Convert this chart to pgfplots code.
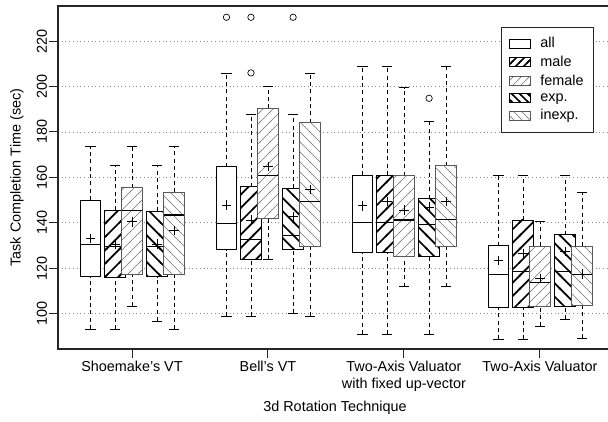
\documentclass[border=0pt]{standalone}
\usepackage{fontspec}
\setmainfont{Liberation Sans}
\usepackage{pgfplots}
\pgfplotsset{compat=1.18}
\usetikzlibrary{patterns}
\pgfdeclarepatternformonly{thickNE}{\pgfqpoint{-1pt}{-1pt}}{\pgfqpoint{11pt}{11pt}}{\pgfqpoint{10pt}{10pt}}{%
  \pgfsetlinewidth{1.3pt}\pgfsetrectcap
  \pgfpathmoveto{\pgfqpoint{-0.5pt}{-0.5pt}}\pgfpathlineto{\pgfqpoint{10.5pt}{10.5pt}}\pgfusepath{stroke}}
\pgfdeclarepatternformonly{thickNW}{\pgfqpoint{-1pt}{-1pt}}{\pgfqpoint{11pt}{11pt}}{\pgfqpoint{10pt}{10pt}}{%
  \pgfsetlinewidth{1.3pt}\pgfsetrectcap
  \pgfpathmoveto{\pgfqpoint{-0.5pt}{10.5pt}}\pgfpathlineto{\pgfqpoint{10.5pt}{-0.5pt}}\pgfusepath{stroke}}
\pgfdeclarepatternformonly{thinNE}{\pgfqpoint{-1pt}{-1pt}}{\pgfqpoint{8.5pt}{8.5pt}}{\pgfqpoint{7.5pt}{7.5pt}}{%
  \pgfsetlinewidth{0.45pt}
  \pgfpathmoveto{\pgfqpoint{-0.5pt}{-0.5pt}}\pgfpathlineto{\pgfqpoint{8pt}{8pt}}\pgfusepath{stroke}}
\pgfdeclarepatternformonly{thinNW}{\pgfqpoint{-1pt}{-1pt}}{\pgfqpoint{8.5pt}{8.5pt}}{\pgfqpoint{7.5pt}{7.5pt}}{%
  \pgfsetlinewidth{0.45pt}
  \pgfpathmoveto{\pgfqpoint{-0.5pt}{8pt}}\pgfpathlineto{\pgfqpoint{8pt}{-0.5pt}}\pgfusepath{stroke}}
\pgfdeclarepatternformonly{lgthickNE}{\pgfqpoint{-1pt}{-1pt}}{\pgfqpoint{7pt}{7pt}}{\pgfqpoint{6pt}{6pt}}{%
  \pgfsetlinewidth{1.2pt}\pgfsetrectcap
  \pgfpathmoveto{\pgfqpoint{-0.5pt}{-0.5pt}}\pgfpathlineto{\pgfqpoint{6.5pt}{6.5pt}}\pgfusepath{stroke}}
\pgfdeclarepatternformonly{lgthickNW}{\pgfqpoint{-1pt}{-1pt}}{\pgfqpoint{7pt}{7pt}}{\pgfqpoint{6pt}{6pt}}{%
  \pgfsetlinewidth{1.2pt}\pgfsetrectcap
  \pgfpathmoveto{\pgfqpoint{-0.5pt}{6.5pt}}\pgfpathlineto{\pgfqpoint{6.5pt}{-0.5pt}}\pgfusepath{stroke}}
\pgfdeclarepatternformonly{lgthinNE}{\pgfqpoint{-1pt}{-1pt}}{\pgfqpoint{7pt}{7pt}}{\pgfqpoint{6pt}{6pt}}{%
  \pgfsetlinewidth{0.45pt}
  \pgfpathmoveto{\pgfqpoint{-0.5pt}{-0.5pt}}\pgfpathlineto{\pgfqpoint{6.5pt}{6.5pt}}\pgfusepath{stroke}}
\pgfdeclarepatternformonly{lgthinNW}{\pgfqpoint{-1pt}{-1pt}}{\pgfqpoint{7pt}{7pt}}{\pgfqpoint{6pt}{6pt}}{%
  \pgfsetlinewidth{0.45pt}
  \pgfpathmoveto{\pgfqpoint{-0.5pt}{6.5pt}}\pgfpathlineto{\pgfqpoint{6.5pt}{-0.5pt}}\pgfusepath{stroke}}
\pgfplotsset{
  boxall/.style={fill=white, draw=black, line width=0.7pt},
  boxmale/.style={fill=white, draw=black, line width=0.7pt, postaction={pattern=thickNE, pattern color=black}},
  boxfemale/.style={fill=white, draw=black!65, line width=0.7pt, postaction={pattern=thinNE, pattern color=black!55}},
  boxexp/.style={fill=white, draw=black, line width=0.7pt, postaction={pattern=thickNW, pattern color=black}},
  boxinexp/.style={fill=white, draw=black!65, line width=0.7pt, postaction={pattern=thinNW, pattern color=black!55}},
  whisk/.style={black, line width=0.6pt, dash pattern=on 3pt off 2.5pt},
  cap/.style={black, line width=0.6pt, solid},
  avg/.style={only marks, mark=+, mark size=3.6pt, black, mark options={solid, line width=0.6pt}},
  medl/.style={black, line width=0.8pt, solid},
}
% \bx{pos}{lower whisker}{lower quartile}{median}{upper quartile}{upper whisker}{mean}{box style}
\newcommand{\bx}[8]{%
  \pgfmathsetmacro\xa{#1-0.075}\pgfmathsetmacro\xb{#1+0.075}%
  \pgfmathsetmacro\ca{#1-0.0375}\pgfmathsetmacro\cb{#1+0.0375}%
  \edef\tmp{%
    \noexpand\addplot[whisk, forget plot] coordinates {(#1,#2) (#1,#3)};
    \noexpand\addplot[whisk, forget plot] coordinates {(#1,#5) (#1,#6)};
    \noexpand\addplot[cap, forget plot] coordinates {(\ca,#2) (\cb,#2)};
    \noexpand\addplot[cap, forget plot] coordinates {(\ca,#6) (\cb,#6)};
    \noexpand\addplot[#8, forget plot] coordinates {(\xa,#3) (\xb,#3) (\xb,#5) (\xa,#5)} -- cycle;
    \noexpand\addplot[medl, forget plot] coordinates {(\xa,#4) (\xb,#4)};
    \noexpand\addplot[avg, forget plot] coordinates {(#1,#7)};
  }\tmp
}
\begin{document}
\fontsize{10.8}{13}\selectfont
\begin{tikzpicture}
\useasboundingbox (0,0) rectangle (456pt,316.5pt);
\begin{axis}[
  at={(43.5pt,54.75pt)}, anchor=south west,
  scale only axis, width=415.5pt, height=257.25pt,
  xmin=0.456, xmax=4.53, ymin=84.36, ymax=235.46,
  axis line style={black!85, line width=0.8pt},
  xtick={1,2,3,4},
  xticklabels={Shoemake's VT, Bell's VT, {Two-Axis Valuator\\with fixed up-vector}, Two-Axis Valuator},
  xticklabel style={align=center, inner sep=2pt},
  ytick={100,120,...,220},
  yticklabel style={rotate=90, anchor=south, inner sep=1.5pt},
  /pgf/number format/assume math mode=true,
  tick align=outside, xtick pos=left, ytick pos=left,
  major tick length=6.5pt,
  tick style={black!85, line width=0.7pt},
  ymajorgrids, major grid style={black!45, line width=0.5pt, dash pattern=on 0.6pt off 2.2pt},
  xlabel={3d Rotation Technique},
  xlabel style={at={(axis description cs:0.5,-0.172)}, anchor=center, inner sep=0pt},
  ylabel={Task Completion Time (sec)},
  ylabel style={at={(axis description cs:-0.074,0.5)}, anchor=center, inner sep=0pt},
  legend style={at={(0.9675,0.9397)}, anchor=north east, draw=black!85, line width=0.7pt,
    inner xsep=5.5pt, inner ysep=5.5pt, row sep=0.6pt,
    /tikz/every odd column/.append style={column sep=5pt}},
  legend cell align=left,
  legend image code/.code={\draw[#1] (0pt,-3.4pt) rectangle (16pt,3.4pt);},
]
% legend
\addlegendimage{draw=black, line width=0.6pt, fill=white}
\addlegendentry{all}
\addlegendimage{draw=black, line width=0.6pt, fill=white, postaction={pattern=lgthickNE, pattern color=black}}
\addlegendentry{male}
\addlegendimage{draw=black!65, line width=0.6pt, fill=white, postaction={pattern=lgthinNE, pattern color=black!55}}
\addlegendentry{female}
\addlegendimage{draw=black, line width=0.6pt, fill=white, postaction={pattern=lgthickNW, pattern color=black}}
\addlegendentry{exp.}
\addlegendimage{draw=black!65, line width=0.6pt, fill=white, postaction={pattern=lgthinNW, pattern color=black!55}}
\addlegendentry{inexp.}

% ---- Shoemake's VT (1)
\bx{0.695}{93.2}{116.4}{130.5}{150}{173.8}{133}{boxall}
\bx{0.875}{93.2}{116}{129.4}{145.5}{165.1}{130.5}{boxmale}
\bx{1.0}{103.3}{117.4}{145.2}{155.4}{173.8}{140.4}{boxfemale}
\bx{1.185}{96.7}{116.1}{129.4}{145}{165.1}{130.5}{boxexp}
\bx{1.31}{93.2}{117.4}{143.4}{153.5}{173.8}{136.5}{boxinexp}
% ---- Bell's VT (2)
\bx{1.695}{98.9}{128}{139.7}{164.7}{205.8}{147.8}{boxall}
\bx{1.875}{98.9}{123.6}{132.7}{155.9}{187.7}{141.2}{boxmale}
\bx{2.0}{123.9}{141.9}{160.7}{190.4}{199.9}{164.7}{boxfemale}
\bx{2.185}{100.1}{128}{134.4}{155.2}{187.7}{142.6}{boxexp}
\bx{2.31}{98.9}{129.7}{149.3}{184}{205.8}{154.7}{boxinexp}
% ---- Two-Axis Valuator with fixed up-vector (3)
\bx{2.695}{91}{126.8}{140}{161}{208.7}{147.4}{boxall}
\bx{2.875}{91}{126.8}{139.9}{161}{208.7}{149.3}{boxmale}
\bx{3.0}{111.8}{125.3}{141.2}{160.7}{199.5}{145.6}{boxfemale}
\bx{3.185}{91}{125.3}{139.3}{150.6}{184.5}{146.8}{boxexp}
\bx{3.31}{111.8}{129.7}{141.6}{165.1}{208.7}{149.3}{boxinexp}
% ---- Two-Axis Valuator (4)
\bx{3.695}{88.6}{102.7}{117}{129.9}{161}{123.3}{boxall}
\bx{3.875}{88.6}{102.7}{118.3}{141.2}{161}{126.3}{boxmale}
\bx{4.0}{94.3}{103.3}{113.6}{129.7}{140.7}{115.5}{boxfemale}
\bx{4.185}{97.5}{103}{118.4}{134.6}{161}{127.3}{boxexp}
\bx{4.31}{89}{103.7}{117.3}{129.7}{153.2}{117.3}{boxinexp}
% outliers
\addplot[only marks, mark=o, mark size=2.4pt, black, mark options={line width=0.5pt}, forget plot]
  coordinates {(1.695,230.5) (1.875,230.5) (1.875,206) (2.185,230.5) (3.185,194.8)};
\end{axis}
\end{tikzpicture}
\end{document}
